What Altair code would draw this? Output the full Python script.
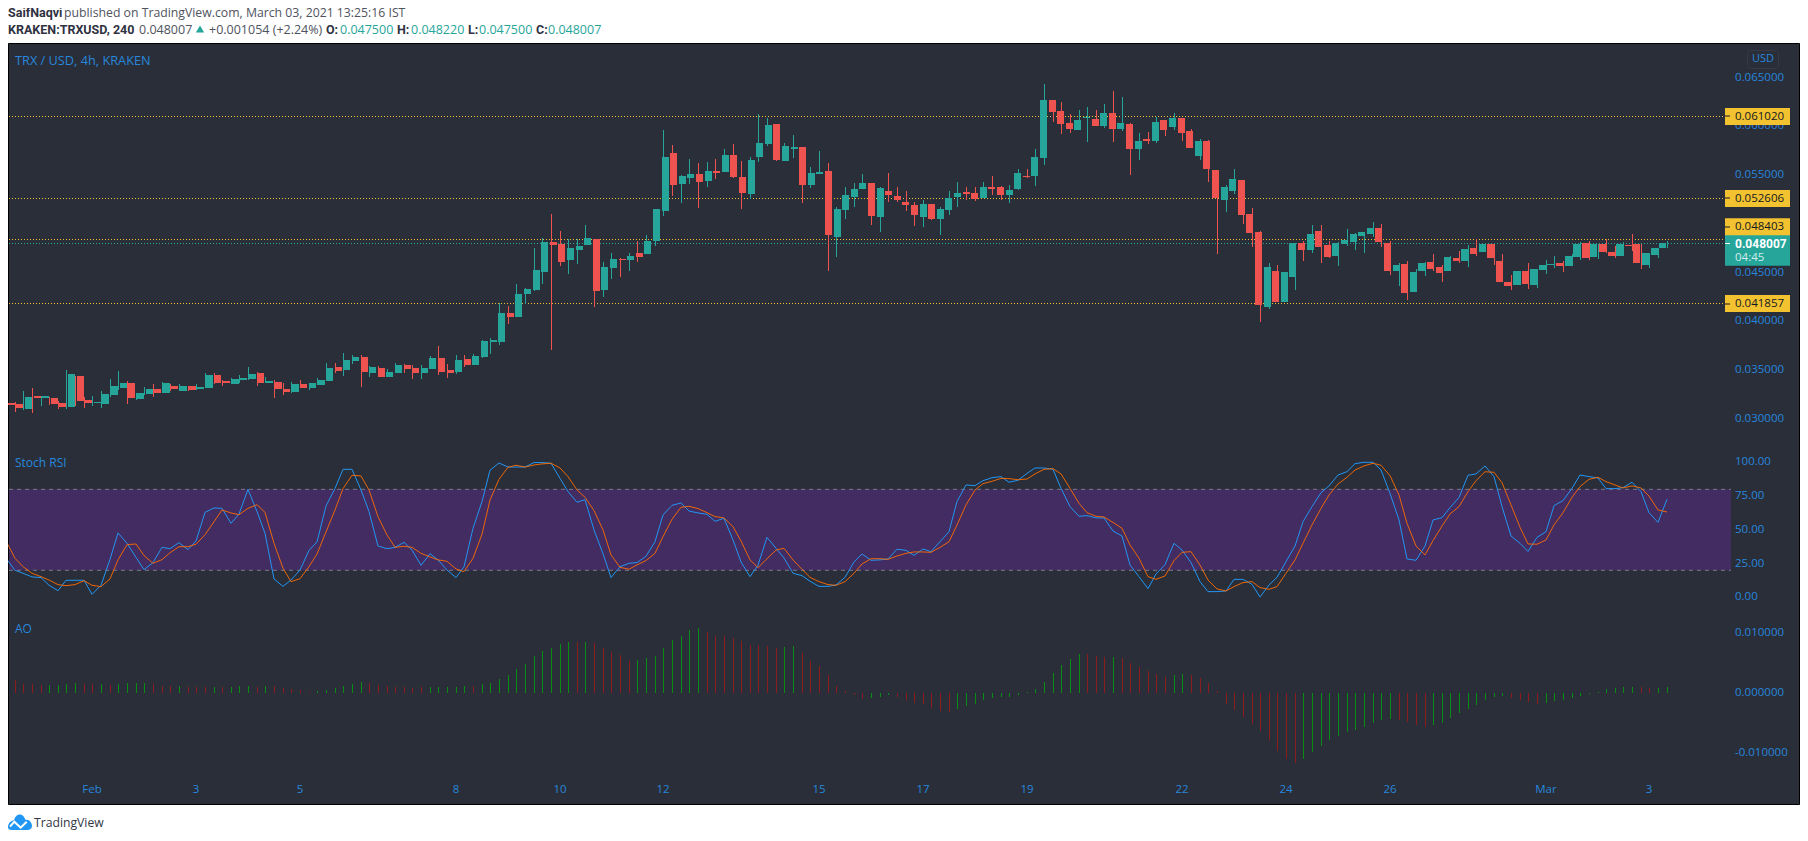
import altair as alt
import pandas as pd

# ---- Candles, prices in units of 0.0001 USD ----
CANDLES_E4 = [
(316.4,316.4,314.7,314.7),(315.4,317.1,307.2,311.2),(310.2,328.7,309.2,322.6),(323.6,331.8,306.2,321.5),
(321.5,323.6,313.3,323.6),(321.5,322.6,314.0,315.4),(316.4,318.1,310.6,312.3),(312.3,350.2,310.2,346.1),
(344.1,344.1,313.3,318.5),(319.5,322.6,311.3,316.4),(316.8,323.6,313.3,317.4),(315.4,328.7,311.3,325.6),
(324.6,341.0,322.9,333.8),(331.8,349.2,329.7,336.9),(336.9,338.6,315.4,321.5),(320.5,326.7,319.5,326.7),
(325.6,332.5,324.6,330.8),(330.8,335.9,322.6,326.7),(326.7,337.9,326.7,336.9),(333.8,335.9,328.7,330.8),
(328.7,335.9,328.7,333.8),(333.8,333.8,328.7,329.7),(330.8,335.9,329.7,332.8),(331.8,347.1,331.8,345.1),
(345.1,347.1,335.9,336.9),(339.0,340.3,333.8,336.9),(335.9,341.7,335.9,341.0),(340.0,345.1,336.9,342.0),
(341.0,353.3,340.0,346.1),(347.1,348.2,333.8,336.9),(336.9,343.0,336.9,339.0),(337.9,340.0,321.5,330.8),
(330.8,336.9,324.6,327.7),(327.7,337.9,326.7,335.9),(335.9,340.0,331.8,331.8),(331.8,336.9,329.7,336.9),
(334.9,342.0,334.9,340.0),(339.0,357.4,339.0,352.3),(353.3,357.4,347.1,349.2),(350.2,367.6,344.1,360.5),
(359.5,365.6,356.4,363.5),(363.5,365.6,332.8,348.2),(347.1,354.3,343.0,353.3),(352.3,354.3,343.0,343.0),
(343.0,351.2,343.0,348.2),(347.1,357.4,347.1,355.3),(355.3,356.4,347.1,351.2),(352.3,355.3,341.0,347.1),
(347.1,355.3,341.0,352.3),(351.2,364.6,351.2,362.5),(362.5,374.8,345.1,348.2),(350.2,356.4,342.0,347.1),
(348.2,365.6,346.1,360.5),(361.5,365.6,353.3,355.3),(355.3,366.6,355.3,364.6),(363.5,381.0,362.5,380.0),
(378.9,383.0,366.6,381.0),(378.9,418.5,375.8,408.6),(408.6,415.7,397.3,404.5),(404.5,438.3,404.5,428.0),
(428.0,434.2,417.8,433.2),(432.1,475.2,431.1,452.6),(450.6,485.4,438.3,481.3),(481.3,510.0,370.7,478.3),
(479.3,492.6,456.7,460.8),(462.9,484.4,448.5,475.2),(473.1,484.4,458.8,477.2),(478.3,498.8,478.3,485.4),
(484.4,484.4,414.7,431.1),(432.1,460.8,425.0,455.7),(454.7,470.1,443.4,463.9),(463.9,465.0,445.5,462.9),
(462.9,470.1,451.6,467.0),(470.1,482.4,460.8,466.0),(469.1,488.5,469.1,482.4),(482.4,515.2,477.2,515.2),
(513.1,596.1,508.0,568.4),(572.5,580.7,528.5,539.7),(540.8,550.0,521.3,549.0),(546.9,566.4,540.8,551.0),
(551.0,562.3,516.2,542.8),(543.8,563.3,537.7,554.1),(554.1,566.4,545.9,552.0),(553.1,576.6,553.1,570.5),
(570.5,581.8,546.9,547.9),(547.9,564.3,515.2,531.6),(530.5,568.4,525.4,565.4),(568.4,612.5,563.3,582.8),
(581.8,608.4,579.7,601.2),(602.3,602.3,564.3,565.4),(564.3,582.8,564.3,579.7),(576.6,591.0,567.4,578.7),
(578.7,578.7,521.3,539.7),(539.7,558.2,536.7,552.0),(551.0,574.6,551.0,553.1),(554.1,562.3,451.6,488.5),
(486.5,517.2,466.0,515.2),(514.1,537.7,504.9,529.5),(527.4,541.8,517.2,535.6),(535.6,551.0,535.6,541.8),
(541.8,541.8,498.8,508.0),(507.0,537.7,491.6,536.7),(533.6,552.0,522.3,529.5),(528.5,537.7,522.3,524.4),
(522.3,533.6,513.1,519.3),(519.3,522.3,497.7,509.0),(507.0,524.4,496.7,520.3),(520.3,520.3,503.9,504.9),
(504.9,517.2,488.5,515.2),(514.1,533.6,509.0,526.4),(527.4,542.8,517.2,531.6),(532.6,537.7,524.4,530.5),
(531.6,537.7,523.4,525.4),(526.4,542.8,526.4,537.7),(537.7,549.0,529.5,535.6),(537.7,538.7,524.4,529.5),
(529.5,539.7,521.3,534.6),(535.6,556.1,534.6,552.0),(549.0,556.1,546.9,547.9),(549.0,576.6,538.7,568.4),
(567.4,643.3,560.2,626.9),(626.9,626.9,604.3,614.6),(615.6,624.8,592.0,602.3),(603.3,612.5,593.0,597.1),
(596.1,616.6,596.1,606.4),(608.4,619.7,583.8,609.4),(607.4,616.6,600.2,600.2),(600.2,622.8,598.2,613.5),
(613.5,636.1,583.8,597.1),(597.1,629.9,595.1,603.3),(602.3,603.3,550.0,576.6),(576.6,593.0,565.4,584.8),
(586.9,594.1,581.8,584.8),(584.8,609.4,582.8,604.3),(606.4,606.4,590.0,596.1),(599.2,613.5,596.1,608.4),
(608.4,608.4,584.8,593.0),(595.1,597.1,577.7,577.7),(569.5,586.9,565.4,584.8),(584.8,585.9,542.8,556.1),
(555.1,555.1,469.1,526.4),(524.4,539.7,512.1,537.7),(533.6,556.1,530.5,545.9),(544.9,544.9,499.8,509.0),
(510.0,516.2,476.2,490.5),(491.6,492.6,399.4,416.8),(414.7,459.8,412.7,455.7),(451.6,457.8,419.8,419.8),
(419.8,450.6,419.8,450.6),(445.5,480.3,432.1,480.3),(480.3,482.4,461.9,473.1),(473.1,498.8,470.1,489.5),
(492.6,498.8,459.8,476.2),(478.3,482.4,465.0,466.0),(467.0,481.3,456.7,480.3),(479.3,494.7,477.2,483.4),
(481.3,490.6,473.1,489.5),(487.5,491.6,470.1,491.6),(489.5,501.8,486.5,495.7),(495.7,499.8,476.2,481.3),
(480.3,482.4,447.5,451.6),(451.6,459.8,436.2,457.8),(458.8,461.9,421.9,429.0),(430.1,453.7,430.1,450.6),
(451.6,460.8,446.5,459.8),(460.8,469.1,451.6,453.7),(455.7,457.8,440.3,449.6),(451.6,467.0,451.6,466.0),
(464.9,472.1,459.8,461.9),(461.9,478.3,455.7,474.2),(475.2,484.4,467.0,469.1),(471.1,479.3,471.1,479.3),
(479.3,479.3,457.8,464.9),(461.9,469.0,440.4,440.4),(440.4,447.5,432.2,436.3),(437.3,451.6,437.3,451.6),
(451.6,459.8,433.2,438.3),(437.3,453.7,434.2,453.7),(452.6,462.9,448.5,457.8),(457.8,467.0,454.7,458.8),
(459.8,461.9,450.6,456.8),(456.8,469.0,456.8,467.0),(466.0,481.3,462.9,479.3),(480.3,482.4,462.9,465.0),
(466.0,479.3,463.9,479.3),(479.3,484.1,470.1,471.1),(471.1,477.2,464.9,467.0),(467.0,481.3,467.0,479.3),
(478.3,489.5,472.1,477.2),(479.3,479.3,453.7,459.8),(457.8,470.1,454.7,470.1),(468.0,475.2,465.0,475.2),
(475.0,482.2,475.0,480.07),
]

STOCH_K = [28.9,20,17.8,15.1,14.6,8.9,4.9,12.6,12.6,12.6,2.2,8.9,28.1,47.7,40,29.6,20.5,25.7,37,36,40.5,35.3,41.7,62.9,66.2,65.9,54.8,61.7,80,63.5,47.4,13.6,8.1,12.8,20.2,34.8,41,67.6,80.7,94.8,94.8,79.5,63.5,38,36,37,40.7,35,23.7,32.3,27.7,20.2,14.6,22.5,51.1,70.9,94.1,99.5,96.5,96.5,96.5,99.8,99.8,99.3,88.1,78.3,70.4,72.3,49.9,32.3,14.6,22.7,25.2,25.7,30.4,41.2,61,68.1,69.9,63.9,62.5,61.5,56.3,58.5,42.5,26.2,15.3,23.9,44.4,36.3,29.1,17.8,16,11.9,8.1,8.1,9.1,14.8,26.2,32.1,27.4,27.7,28.4,35.6,34.8,31.1,35.8,33.8,41.2,48.6,70.9,83.2,82.7,86.4,88.6,89.4,85.2,86.7,91.8,95.8,95.8,94.8,80.7,67.2,60,60.5,58.8,58.8,49.1,45.4,23.9,15.3,6.4,17.3,24.2,40,35,25.7,11.6,4.2,4.2,4.7,13.3,13.3,9.6,0.2,9.1,14.8,26.4,38,56,67.2,77.5,82.5,90.6,93.1,99,100,100,94.3,77,57.3,28.4,27.4,38,57.3,59,66.4,74,90.4,91.4,97.3,89.4,67.2,45.4,40,34,44.4,48.6,67.9,71.6,80.7,90.6,89.4,88.4,80.5,80.5,81.2,85.2,78.3,62.7,55.5,72.6]

STOCH_D = [41.7,28.9,22.7,17.8,15.3,12.8,9.4,8.6,9.4,12.3,8.9,7.9,13.6,27.7,39,39.5,30.9,25.2,27.9,33,37.5,37.5,39.3,46.4,56,64.7,62.5,61.2,65.9,68.6,62.9,40,21.5,11.6,13.8,22.7,32.1,48.4,64.7,80.5,90.4,89.9,79.5,59.7,46.2,37,37.8,37,32.6,29.9,27.7,26.7,21,19,28.9,46.7,72.1,87.4,96.3,97.8,96.5,98,98.8,99.3,95.8,89.4,79.5,74.1,64.2,49.9,31.4,22.2,20.8,24,27.2,32.6,44.9,57.8,66.7,67.4,65.7,62.7,59.8,58.8,52.3,41.7,27.7,22,28.6,35,36.3,27.7,20.7,14.8,11.6,9.4,8.9,11.6,17.8,24.7,28.6,28.6,28.1,30.6,32.6,33.6,33.6,33.3,37,41.2,53.6,68.4,79.5,84.2,85.9,88.1,87.9,87.1,87.6,91.4,94.8,95.3,91.4,80.7,69.6,62.7,60,59.5,55.5,51.1,38.8,28.9,15.3,13.3,15.8,27.2,33.3,33.8,23.9,12.8,6.2,4.7,7.9,10.9,11.6,7.2,5.9,7.9,17.8,27.7,40,53.6,65.9,75.8,83.9,88.9,94.3,97.3,99.3,97.8,90.1,75.8,54.8,38,31.4,42,52.8,61.7,67.2,78.3,86.4,93,92.6,84.9,68.4,51.9,39.5,39.3,42.5,53.6,62.7,74,82,87.4,88.9,85.7,83.2,81,82.5,81,75,64.7,63.2]

# Awesome Oscillator, units of 0.001 USD, from the second bar on
AO_E3 = [2.22,1.56,1.56,1.39,1.39,1.39,1.56,1.72,1.56,1.56,1.56,1.39,1.56,1.67,1.72,1.72,1.56,1.22,1.22,1.22,1.06,1.06,1.06,1.0,1.0,1.06,1.22,1.22,1.06,1.22,1.22,0.89,0.72,0.56,0.28,0.39,0.56,0.83,1.22,1.56,1.89,1.72,1.39,1.22,1.0,1.0,0.89,1.0,1.06,1.06,1.06,1.11,1.22,1.22,1.56,1.72,2.39,3.06,4.0,4.89,6.22,7.0,7.61,8.22,8.5,8.56,8.56,8.39,7.61,6.83,6.39,5.39,5.56,5.83,6.22,7.61,8.89,9.61,10.56,10.83,10.17,9.61,9.61,9.28,8.72,8.06,8.06,7.94,7.61,7.78,7.89,6.67,5.39,4.56,3.06,1.22,0.39,-0.28,-0.89,-0.78,-0.56,-0.33,-0.56,-1.11,-1.56,-1.78,-2.39,-2.94,-3.06,-2.67,-2.11,-1.83,-1.11,-0.78,-0.67,-0.61,-0.28,0.28,0.67,1.94,3.44,4.72,5.72,6.56,6.56,6.22,6.06,6.06,5.89,5.06,4.33,3.72,3.22,2.78,3.06,3.22,3.06,2.56,1.72,0.33,-1.78,-2.78,-3.94,-5.11,-6.28,-7.78,-9.61,-10.94,-11.61,-10.94,-9.78,-8.78,-7.78,-7.11,-6.44,-6.11,-5.61,-4.94,-4.44,-4.28,-4.44,-4.78,-5.28,-5.61,-5.28,-4.94,-4.11,-3.28,-2.61,-1.94,-1.11,-0.61,-0.44,-0.78,-1.11,-1.44,-1.78,-1.61,-1.28,-1.11,-0.78,-0.44,-0.11,0.22,0.72,0.89,1.06,1.06,1.06,0.89,0.89,1.06]
AO_DIR = "RRRRGGGGRRGRGGGGRRRGRRRGRGGGRGRRRRRGGGGGGRRRRRRRGGGGGRGGGGGGGGGGGRGRRRRRGGGGGGGGRRRRRRRRRGGRRRRRRRRGGGRRRRRRRGGGGGGGGGGGGGGGRRRGRRRRRRGGRRRRRRRRRRRRRGGGGGGGGGGGRRRRGGGGGGGGGRRRRGGGGGGGGGGGRRGG"

LEVELS = [0.061020, 0.052606, 0.048403, 0.041857]
LEVEL_LABELS = ["0.061020", "0.052606", "0.048403", "0.041857"]
LAST_PRICE = 0.048007
PRICE_TICKS = [0.065, 0.060, 0.055, 0.045, 0.040, 0.035, 0.030]
PRICE_TICK_LABELS = ["0.065000", "0.060000", "0.055000", "0.045000", "0.040000", "0.035000", "0.030000"]
RSI_TICKS = [100, 75, 50, 25, 0]
RSI_TICK_LABELS = ["100.00", "75.00", "50.00", "25.00", "0.00"]
AO_TICKS = [0.01, 0.0, -0.01]
AO_TICK_LABELS = ["0.010000", "0.000000", "-0.010000"]
DATE_BARS = [10, 22, 34, 52, 64, 76, 94, 106, 118, 136, 148, 160, 178, 190]
DATE_LABELS = ["Feb", "3", "5", "8", "10", "12", "15", "17", "19", "22", "24", "26", "Mar", "3"]

FONT = "Open Sans"
BOLD = "Roboto"
BG = "#2a2e39"
UP, DOWN = "#26a69a", "#ef5350"
BLUE = "#2787dc"
YELLOW = "#f2c230"
W, H = 1792, 830

df = pd.DataFrame(CANDLES_E4, columns=["o", "h", "l", "c"]) / 1e4
df["i"] = range(len(df))
df["dir"] = ["up" if c >= o else "down" for o, c in zip(df.o, df.c)]

sx = alt.Scale(domain=[0, 200], range=[-2.1, 1727.9], round=True)
sp = alt.Scale(domain=[0.03, 0.065], range=[411, 69.5], round=True)
sr = alt.Scale(domain=[0, 100], range=[589.3, 454.3])
sa = alt.Scale(domain=[-0.01, 0.01], range=[745.3, 625.3], round=True)
cdir = alt.Color("dir:N", scale=alt.Scale(domain=["up", "down"], range=[UP, DOWN]), legend=None)
X = alt.X("i:Q", scale=sx, axis=None)


def txt(s, x, y, color="#131722", size=12, bold=False, align="left", font=None):
    return alt.Chart(pd.DataFrame({"t": [s]})).mark_text(
        align=align, baseline="middle", fontSize=size, font=font or (BOLD if bold else FONT), color=color,
        fontWeight="bold" if bold else "normal",
    ).encode(x=alt.value(x - 8), y=alt.value(y - 8), text="t:N")


def box(x0, x1, y0, y1, fill, **kw):
    return alt.Chart(pd.DataFrame({"a": [0]})).mark_rect(fill=fill, **kw).encode(
        x=alt.value(x0 - 8), x2=alt.value(x1 - 8), y=alt.value(y0 - 8), y2=alt.value(y1 - 8))


layers = []
# panes
layers.append(box(8.5, 1799.5, 43.5, 804.5, BG, stroke="#000000", strokeWidth=1))
rsi_band = pd.DataFrame({"a": [80], "b": [20]})
layers.append(alt.Chart(rsi_band).mark_rect(fill="#432c61").encode(
    x=alt.value(1), x2=alt.value(1723),
    y=alt.Y("a:Q", scale=sr, axis=None), y2="b:Q"))
layers.append(alt.Chart(pd.DataFrame({"v": [80, 20]})).mark_rule(
    color="#787b86", strokeDash=[4, 4], strokeWidth=1).encode(
    x=alt.value(1), x2=alt.value(1723), y=alt.Y("v:Q", scale=sr, axis=None)))
# levels
layers.append(alt.Chart(pd.DataFrame({"v": LEVELS})).mark_rule(
    color=YELLOW, strokeDash=[1, 2], strokeWidth=1, yOffset=0.5).encode(
    x=alt.value(1), x2=alt.value(1717), y=alt.Y("v:Q", scale=sp, axis=None)))
layers.append(alt.Chart(pd.DataFrame({"v": [LAST_PRICE]})).mark_rule(
    color=UP, strokeDash=[1, 2], strokeWidth=1, yOffset=0.5).encode(
    x=alt.value(1), x2=alt.value(1717), y=alt.Y("v:Q", scale=sp, axis=None)))
# candles
layers.append(alt.Chart(df).mark_rule(strokeWidth=1, xOffset=0.5).encode(
    x=X, y=alt.Y("l:Q", scale=sp, axis=None), y2="h:Q", color=cdir))
layers.append(alt.Chart(df).mark_bar(size=7, xOffset=0.5).encode(
    x=X, y=alt.Y("o:Q", scale=sp, axis=None), y2="c:Q", color=cdir))
# stoch rsi
rsi = pd.DataFrame({"i": range(len(STOCH_K)), "k": STOCH_K, "d": STOCH_D})
layers.append(alt.Chart(rsi).mark_line(color="#2196f3", strokeWidth=1).encode(
    x=X, y=alt.Y("k:Q", scale=sr, axis=None)))
layers.append(alt.Chart(rsi).mark_line(color="#ff6d00", strokeWidth=1, opacity=0.9).encode(
    x=X, y=alt.Y("d:Q", scale=sr, axis=None)))
# AO
ao = pd.DataFrame({"i": range(1, len(AO_E3) + 1), "v": [v / 1000 for v in AO_E3],
                   "zero": 0.0, "dir": list(AO_DIR)})
layers.append(alt.Chart(ao).mark_rule(strokeWidth=1, xOffset=0.5).encode(
    x=X, y=alt.Y("zero:Q", scale=sa, axis=None), y2="v:Q",
    color=alt.Color("dir:N", scale=alt.Scale(domain=["G", "R"], range=["#078c14", "#8c1d1d"]), legend=None)))

# right-hand scale labels
def tick_layer(vals, labels, scale):
    return alt.Chart(pd.DataFrame({"v": vals, "t": labels})).mark_text(
        align="left", baseline="middle", fontSize=11.5, font=FONT, color=BLUE).encode(
        x=alt.value(1727), y=alt.Y("v:Q", scale=scale, axis=None), text="t:N")

layers.append(tick_layer(PRICE_TICKS, PRICE_TICK_LABELS, sp))
layers.append(tick_layer(RSI_TICKS, RSI_TICK_LABELS, sr))
layers.append(tick_layer(AO_TICKS, AO_TICK_LABELS, sa))
# date labels
layers.append(alt.Chart(pd.DataFrame({"i": DATE_BARS, "t": DATE_LABELS})).mark_text(
    align="center", baseline="middle", fontSize=11.5, font=FONT, color=BLUE).encode(
    x=X, y=alt.value(782), text="t:N"))

# price tags (the 0.048403 tag is pushed up clear of the last-price tag)
layers.append(box(1725, 1790, 235, 265.7, UP))
TAG_CENTRES = [116.5, 198.5, 226.7, 303.5]
for lab, y in zip(LEVEL_LABELS, TAG_CENTRES):
    layers.append(box(1725, 1790, y - 8.5, y + 8.5, YELLOW))
    layers.append(box(1725, 1730, round(y) - 0.5, round(y) + 0.5, "#131722"))
    layers.append(txt(lab, 1735, y, "#131722", 11.5))
layers.append(box(1725, 1730, 243, 244, "#ffffff"))
layers.append(txt("0.048007", 1735, 243.7, "#ffffff", 12, True))
layers.append(txt("04:45", 1735, 257.7, "#d4edeb", 11.5))
layers.append(box(1747.5, 1778.5, 50.5, 68.5, BG, stroke="#363a45", cornerRadius=3))
layers.append(txt("USD", 1763, 58.7, BLUE, 11, align="center"))

# pane titles
layers.append(txt("TRX / USD, 4h, KRAKEN", 15, 60.5, BLUE, 12.75))
layers.append(txt("Stoch RSI", 15, 463, BLUE, 12))
layers.append(txt("AO", 15, 628.5, BLUE, 12))

# header
DARK, MID, TEAL = "#2f3241", "#50535e", "#26a69a"
layers.append(txt("SaifNaqvi", 8, 12.5, DARK, 12.5, True))
layers.append(txt("published on TradingView.com, March 03, 2021 13:25:16 IST", 64, 12.5, MID, 12.25))
layers.append(txt("KRAKEN:TRXUSD, 240", 8, 29.5, DARK, 12.5, True))
layers.append(txt("0.048007", 139, 29.5, MID, 12.5))
layers.append(alt.Chart(pd.DataFrame({"a": [0]})).mark_point(
    shape="triangle-up", filled=True, fill=TEAL, opacity=1, size=70).encode(
    x=alt.value(192), y=alt.value(21)))
layers.append(txt("+0.001054 (+2.24%)", 209, 29.5, MID, 12.5))
for lab, lx, val, vx in [("O:", 326, "0.047500", 340), ("H:", 397, "0.048220", 411),
                         ("L:", 468, "0.047500", 479), ("C:", 536, "0.048007", 548)]:
    layers.append(txt(lab, lx, 29.5, DARK, 12.5, True))
    layers.append(txt(val, vx, 29.5, TEAL, 12.5))

# footer logo and wordmark
LOGO = ("M-1,0.5 C-1,0.1 -0.75,-0.05 -0.5,-0.1 C-0.4,-0.55 -0.05,-0.65 0.15,-0.55 "
        "C0.3,-0.48 0.4,-0.3 0.45,-0.15 C0.8,-0.2 1,0.1 1,0.35 C1,0.6 0.8,0.7 0.6,0.7 L-0.7,0.7 C-0.9,0.7 -1,0.6 -1,0.5 Z")
layers.append(alt.Chart(pd.DataFrame({"a": [0]})).mark_point(
    shape=LOGO, filled=True, fill="#2196f3", opacity=1, size=576).encode(
    x=alt.value(12), y=alt.value(813.5)))
layers.append(alt.Chart(pd.DataFrame({"x": [2, 6.3, 12.7, 18.7], "y": [818.7, 813.7, 819.7, 813.7]})).mark_line(
    color="#ffffff", strokeWidth=2).encode(
    x=alt.X("x:Q", scale=None, axis=None), y=alt.Y("y:Q", scale=None, axis=None)))
layers.append(txt("TradingView", 34, 822.5, "#333745", 12.2))

chart = alt.layer(*layers).resolve_scale(x="independent", y="independent", color="independent").properties(
    width=W, height=H, padding=0, autosize=alt.AutoSizeParams(type="none"),
    background="#ffffff",
).configure_view(stroke=None)

chart.save("out.html", embed_options={"renderer": "svg", "actions": False})
